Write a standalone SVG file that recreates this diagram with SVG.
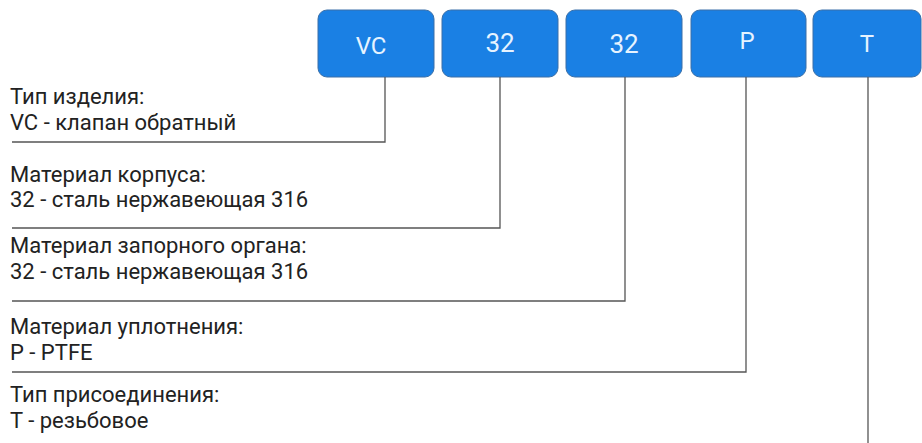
<svg xmlns="http://www.w3.org/2000/svg" width="922" height="443" viewBox="0 0 922 443">
<style>
.box{fill:#1a80e4;stroke:#3a6fa8;stroke-width:1}
.bt{font-family:Roboto,"Liberation Sans",sans-serif;font-size:26px;fill:#e6f3ff;text-anchor:middle}
.bs{font-size:24px}
.lb{font-family:Roboto,"Liberation Sans",sans-serif;font-size:22px;fill:#222}
.ln{fill:none;stroke:#555;stroke-width:1.3}
</style>
<rect width="922" height="443" fill="#fff"/>
<g id="node-vc"><rect class="box" x="318" y="10" width="116" height="67" rx="9"/><text class="bt bs" x="371" y="54">VC</text></g>
<g id="node-32a"><rect class="box" x="442" y="10" width="116" height="67" rx="9"/><text class="bt" x="500" y="52">32</text></g>
<g id="node-32b"><rect class="box" x="566" y="10" width="116" height="67" rx="9"/><text class="bt" x="624" y="53">32</text></g>
<g id="node-p"><rect class="box" x="691" y="10" width="115" height="67" rx="9"/><text class="bt bs" x="747" y="49">P</text></g>
<g id="node-t"><rect class="box" x="813" y="10" width="108" height="67" rx="9"/><text class="bt bs" x="867" y="52">T</text></g>
<g id="labels">
<text class="lb" x="10" y="104">Тип изделия:</text>
<text class="lb" x="10" y="130">VC - клапан обратный</text>
<text class="lb" x="10" y="182">Материал корпуса:</text>
<text class="lb" x="10" y="207">32 - сталь нержавеющая 316</text>
<text class="lb" x="10" y="253">Материал запорного органа:</text>
<text class="lb" x="10" y="279">32 - сталь нержавеющая 316</text>
<text class="lb" x="10" y="334">Материал уплотнения:</text>
<text class="lb" x="10" y="360">P - PTFE</text>
<text class="lb" x="10" y="402">Тип присоединения:</text>
<text class="lb" x="10" y="428">T - резьбовое</text>
</g>
<g id="connectors">
<polyline class="ln" points="385,77 385,142 12,142"/>
<polyline class="ln" points="500,77 500,228 12,228"/>
<polyline class="ln" points="625,77 625,301 12,301"/>
<polyline class="ln" points="746,77 746,372 12,372"/>
<polyline class="ln" points="868,77 868,443"/>
</g>
</svg>
